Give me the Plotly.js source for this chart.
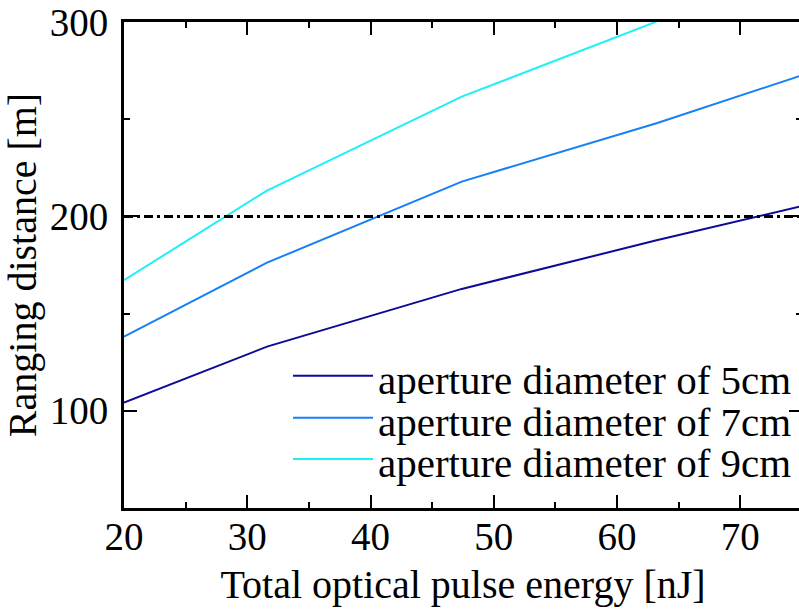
<!DOCTYPE html>
<html>
<head>
<meta charset="utf-8">
<script src="https://cdn.plot.ly/plotly-3.0.1.min.js"></script>
<style>
html, body { margin: 0; padding: 0; overflow: hidden; background: #fff; }
#chart { width: 802px; height: 613px; }
</style>
</head>
<body>
<div id="chart"></div>
<script>
// Data
const energy = [20, 31.6, 47.4, 63.2, 75];               // Total optical pulse energy [nJ]
const dist5cm = [104.2, 133.0, 162.7, 187.7, 205.3];     // Ranging distance [m]
const dist7cm = [138.1, 176.2, 217.9, 247.9, 272.6];
const dist9cm = [167.2, 213.3, 261.6, 300.2];
const seriesNames = ["aperture diameter of 5cm", "aperture diameter of 7cm", "aperture diameter of 9cm"];
const seriesColors = ["#0b0b96", "#1680f5", "#1ef0f5"];
const thresholdDistance = 200;
const xTickVals = [20, 30, 40, 50, 60, 70];
const yTickVals = [100, 200, 300];

const FONT = "Liberation Serif";

const seriesY = [dist5cm, dist7cm, dist9cm];
const traces = seriesY.map((ys, i) => ({
  type: "scatter",
  mode: "lines",
  x: energy.slice(0, ys.length),
  y: ys,
  name: seriesNames[i],
  line: { color: seriesColors[i], width: 2 },
  showlegend: false
}));

traces.push({
  type: "scatter",
  mode: "lines",
  x: [energy[0], energy[energy.length - 1]],
  y: [thresholdDistance, thresholdDistance],
  name: "200 m",
  line: { color: "#000", width: 3, dash: "9px,4px,3px,4px" },
  showlegend: false
});

// Custom legend (long sample lines as in the reference)
const legY = [0.2722, 0.1858, 0.1008];
const shapes = seriesNames.map((n, i) => ({
  type: "line", xref: "paper", yref: "paper",
  x0: 0.2493, x1: 0.3673, y0: legY[i], y1: legY[i],
  line: { color: seriesColors[i], width: 2 }
}));
const annotations = seriesNames.map((n, i) => ({
  xref: "paper", yref: "paper", x: 0.3717, y: legY[i],
  xanchor: "left", yanchor: "middle", yshift: -4,
  text: n, showarrow: false,
  font: { family: FONT, size: 41, color: "#000" }
}));

const axisCommon = {
  showline: true, linecolor: "#000", linewidth: 3,
  mirror: "ticks", ticks: "inside", ticklen: 13, tickwidth: 2, tickcolor: "#000",
  showgrid: false, zeroline: false,
  tickfont: { family: FONT, size: 39, color: "#000" }
};

const layout = {
  width: 802, height: 613,
  margin: { l: 124, r: 0, t: 22, b: 105 },
  paper_bgcolor: "#fff", plot_bgcolor: "#fff",
  font: { family: FONT, size: 39, color: "#000" },
  xaxis: Object.assign({}, axisCommon, {
    range: [20, 75],
    tickvals: xTickVals,
    ticklabelstandoff: -8,
    minor: { dtick: 5, tick0: 0, ticks: "inside", ticklen: 6, tickwidth: 2, tickcolor: "#000" },
    title: { text: "Total optical pulse energy [nJ]", font: { family: FONT, size: 40, color: "#000" }, standoff: 14 },
    automargin: false
  }),
  yaxis: Object.assign({}, axisCommon, {
    range: [50, 300],
    tickvals: yTickVals,
    minor: { dtick: 50, tick0: 0, ticks: "inside", ticklen: 6, tickwidth: 2, tickcolor: "#000" },
    ticklabelstandoff: 5,
    title: { text: "Ranging distance [m]", font: { family: FONT, size: 40, color: "#000" }, standoff: 8 },
    automargin: false
  }),
  shapes: shapes,
  annotations: annotations,
  showlegend: false
};

Plotly.newPlot("chart", traces, layout, { displayModeBar: false, staticPlot: true });
</script>
</body>
</html>
